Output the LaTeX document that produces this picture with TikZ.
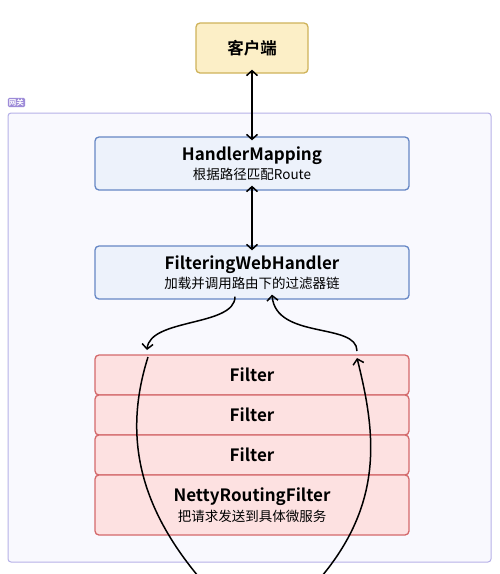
\documentclass[tikz,border=0pt]{standalone}
\usepackage{fontspec}
\setmainfont{Noto Sans CJK SC}[BoldFont={Noto Sans CJK SC Bold}]
\usetikzlibrary{arrows.meta}

\definecolor{clientfill}{HTML}{FCEFC7}
\definecolor{clientline}{HTML}{CFB35A}
\definecolor{groupfill}{HTML}{F9F9FE}
\definecolor{groupline}{HTML}{B6B1E8}
\definecolor{grouptag}{HTML}{9D8BD8}
\definecolor{handlerfill}{HTML}{EDF2FB}
\definecolor{handlerline}{HTML}{6687C5}
\definecolor{filterfill}{HTML}{FDE1E1}
\definecolor{filterline}{HTML}{D4696B}

\tikzset{
  box/.style={rounded corners=4pt, line width=1.3pt, inner sep=0pt, align=center,
    minimum width=314pt},
  clientbox/.style={box, fill=clientfill, draw=clientline, minimum width=112pt, minimum height=50pt},
  handlerbox/.style={box, fill=handlerfill, draw=handlerline, minimum height=53pt},
  filterbox/.style={box, fill=filterfill, draw=filterline, minimum height=40pt},
  flow/.style={line width=1.5pt, -{Straight Barb[length=5pt,width=11pt,line width=1.5pt]}},
  twoway/.style={line width=1.5pt, {Straight Barb[length=5pt,width=11pt,line width=1.5pt]}-{Straight Barb[length=5pt,width=11pt,line width=1.5pt]}},
}
\newcommand{\headfont}{\bfseries\fontsize{17}{20}\selectfont}
\newcommand{\subline}[1]{\\[3pt]{\fontsize{13.5}{15}\selectfont #1}}

\begin{document}
\begin{tikzpicture}[x=1pt, y=-1pt]
    \useasboundingbox (0,0) rectangle (500,574);
    \fill[white] (0,0) rectangle (500,574);

    % Gateway group
    \draw[groupline, fill=groupfill, line width=1pt, rounded corners=3pt] (8,113) rectangle (491,562);
    \node[fill=grouptag, text=white, rounded corners=1.5pt, inner sep=1.2pt,
          font=\bfseries\fontsize{7.5}{8}\selectfont] (gwtag) at (16.5,102.5) {网关};

    % Client
    \node[clientbox] (client) at (252,48) {\fontsize{16.5}{19}\selectfont\bfseries 客户端};

    % Handlers
    \node[handlerbox] (mapping) at (252,163.5) {{\headfont HandlerMapping}\subline{根据路径匹配Route}};
    \node[handlerbox] (webhandler) at (252,272.5) {{\headfont FilteringWebHandler}\subline{加载并调用路由下的过滤器链}};

    % Filter chain
    \node[filterbox] (filterA) at (252,375) {\headfont Filter};
    \node[filterbox] (filterB) at (252,415) {\headfont Filter};
    \node[filterbox] (filterC) at (252,455) {\headfont Filter};
    \node[filterbox, minimum height=60pt] (netty) at (252,505)
        {{\headfont NettyRoutingFilter}\subline{把请求发送到具体微服务}};

    % Straight connectors
    \draw[twoway] ([yshift=4pt]client.south) -- ([yshift=-4pt]mapping.north);
    \draw[twoway] ([yshift=5pt]mapping.south) -- ([yshift=-5pt]webhandler.north);

    % Request and response path through the chain
    \coordinate (downstart) at ([xshift=-17pt,yshift=3pt]webhandler.south);
    \coordinate (downend) at (147,350);
    \coordinate (chainin) at (148,357);
    \coordinate (leftout) at (198,576);
    \coordinate (rightin) at (322,576);
    \coordinate (chainout) at (357,358);
    \coordinate (upstart) at (357,351);
    \coordinate (upend) at ([xshift=20pt,yshift=5pt]webhandler.south);

    \draw[flow] (downstart) .. controls +(0,30) and (150,318) .. (downend);
    \draw[line width=1.5pt] (chainin) .. controls (125,430) and (135,500) .. (leftout);
    \draw[flow] (rightin) .. controls (385,500) and (375,430) .. (chainout);
    \draw[flow] (upstart) .. controls (357,322) and (276,340) .. (upend);
\end{tikzpicture}
\end{document}
